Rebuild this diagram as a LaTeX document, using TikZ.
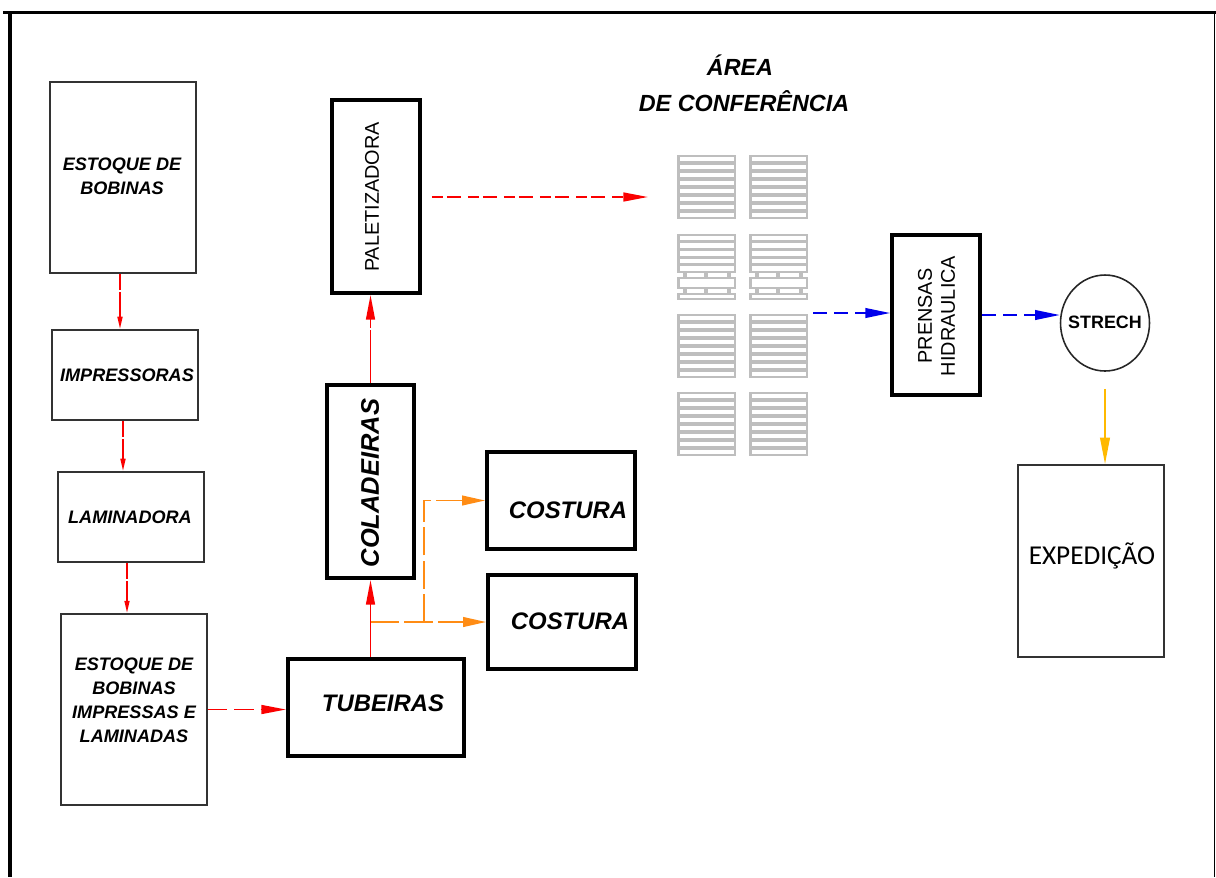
\documentclass[tikz,border=0pt]{standalone}
\usepackage{fontspec}
\setmainfont{Liberation Sans}
\newfontfamily\calib{Carlito}
\usetikzlibrary{arrows.meta,fit,shapes.geometric}
\definecolor{myorange}{RGB}{255,140,20}
\definecolor{myamber}{RGB}{255,185,0}
\definecolor{myblue}{RGB}{0,0,235}
\definecolor{myred}{RGB}{250,0,0}
\definecolor{palgray}{RGB}{190,190,190}
\newcommand{\palletTop}[2]{%
  \fill[palgray] (#1,#2) rectangle ++(59,64);
  \foreach \i in {0,...,7}{\fill[white] (#1+2.5,#2+\i*8+1.6) rectangle ++(54,4.8);}
}
\newcommand{\palletSide}[2]{%
  \fill[palgray] (#1,#2) rectangle ++(59,38.5);
  \foreach \i in {0,...,4}{\fill[white] (#1+2.5,#2+\i*7.7+1.5) rectangle ++(54,4.7);}
  \fill[palgray] (#1,#2+43) rectangle ++(59,12);
  \fill[white] (#1+2.5,#2+45) rectangle ++(54,8);
  \fill[palgray] (#1,#2+59) rectangle ++(59,7);
  \fill[white] (#1+2.5,#2+61) rectangle ++(54,3);
  \foreach \bx in {6,27,50}{
    \fill[palgray] (#1+\bx,#2+38.5) rectangle ++(4,4.5);
    \fill[palgray] (#1+\bx,#2+55) rectangle ++(4,4);
  }
}
\begin{document}
\begin{tikzpicture}[x=0.02cm,y=-0.02cm,
  thinbox/.style={draw=black!80, line width=1.1pt, inner sep=0pt},
  thickbox/.style={draw=black, line width=2.2pt, inner sep=0pt},
  lbl/.style={font=\fontsize{10.3}{13.6}\selectfont\bfseries\itshape, align=center, inner sep=0pt},
  biglbl/.style={font=\fontsize{13.6}{16}\selectfont\bfseries\itshape, inner sep=0pt},
  vlbl/.style={font=\fontsize{11.3}{13}\selectfont, rotate=90, align=center, inner sep=0pt},
  redsmall/.style={draw=myred, line width=1pt, dash pattern=on 9pt off 1.3pt on 60pt off 0.1pt, -{Triangle[length=7pt,width=2.8pt]}},
  redbig/.style={draw=myred, line width=1.1pt, -{Triangle[length=14pt,width=5pt]}},
  orangearr/.style={draw=myorange, line width=1pt, dash pattern=on 16pt off 3pt, -{Triangle[length=13pt,width=5.5pt]}},
  bluearr/.style={draw=myblue, line width=1pt, dash pattern=on 8pt off 4pt, -{Triangle[length=14pt,width=5.5pt]}},
  amberarr/.style={draw=myamber, line width=1pt, -{Triangle[length=15pt,width=5.5pt]}}
]
\useasboundingbox (0,0) rectangle (1216,877);
% frame
\draw[line width=2.2pt] (3,12.5) -- (1216,12.5);
\draw[line width=2.4pt] (10,12.5) -- (10,877);
\draw[line width=0.9pt] (1214.5,12.5) -- (1214.5,877);

% left column
\node[thinbox, fit={(50,82) (196,273)}] (e1) {};
\node[lbl] (e1t) at (122,176) {ESTOQUE DE\\BOBINAS};
\node[thinbox, fit={(52,330) (198,420)}] (imp) {};
\node[lbl] (impt) at (127,375) {IMPRESSORAS};
\node[thinbox, fit={(58,472) (204,562)}] (lam) {};
\node[lbl] (lamt) at (130,517) {LAMINADORA};
\node[thinbox, fit={(61,614) (207,805)}] (e2) {};
\node[lbl] (e2t) at (134,700) {ESTOQUE DE\\BOBINAS\\IMPRESSAS E\\LAMINADAS};

% middle
\node[thickbox, fit={(288,659) (464,756)}] (tub) {};
\node[biglbl] (tubt) at (383,703) {TUBEIRAS};
\node[thickbox, fit={(327,385) (414,578)}] (col) {};
\node[font=\fontsize{14.5}{16}\selectfont\bfseries\itshape, rotate=90, inner sep=0pt] (colt) at (370,483) {COLADEIRAS};
\node[thickbox, fit={(332,100) (420,293)}] (pal) {};
\node[vlbl] (palt) at (372,197) {PALETIZADORA};
\node[thickbox, fit={(487,452) (635,549)}] (cos1) {};
\node[biglbl] (cos1t) at (568,510) {COSTURA};
\node[thickbox, fit={(488,575) (636,669)}] (cos2) {};
\node[biglbl] (cos2t) at (570,621) {COSTURA};

% area de conferencia
\node[font=\fontsize{13.3}{16}\selectfont\bfseries\itshape, inner sep=0pt] (area1) at (740,65) {ÁREA};
\node[font=\fontsize{13.3}{16}\selectfont\bfseries\itshape, inner sep=0pt] (area2) at (744,101) {DE CONFERÊNCIA};
\palletTop{677}{155}
\palletTop{749}{155}
\palletSide{677}{234}
\palletSide{749}{234}
\palletTop{677}{314}
\palletTop{749}{314}
\palletTop{677}{392}
\palletTop{749}{392}

% right side
\node[thickbox, fit={(892,235) (980,395)}] (pr) {};
\node[vlbl] (prt) at (936.5,316) {PRENSAS\\HIDRAULICA};
\node[draw=black!85, line width=0.9pt, ellipse, minimum width=1.78cm, minimum height=1.92cm, inner sep=0pt] (st) at (1105,323) {};
\node[font=\fontsize{10.2}{12}\selectfont\bfseries, inner sep=0pt] (stt) at (1105,322) {STRECH};
\node[thinbox, fit={(1018,465) (1164,657)}] (exp) {};
\node[font=\fontsize{15.5}{18}\selectfont\calib, inner sep=0pt] (expt) at (1092,556) {EXPEDIÇÃO};

% connectors
\draw[redsmall] ([xshift=-0.06cm]e1.south) -- ([xshift=-0.06cm]e1.south |- imp.north);
\draw[redsmall] ([xshift=-0.04cm]imp.south) -- ([xshift=-0.04cm]imp.south |- lam.north);
\draw[redsmall] ([xshift=-0.08cm]lam.south) -- ([xshift=-0.08cm]lam.south |- e2.north);
\draw[redbig, dash pattern=on 11pt off 4pt] (e2.east) -- (e2.east -| tub.west);
\draw[redbig] (col.south |- tub.north) -- (col.south);
\draw[redbig, dash pattern=on 30pt off 1.5pt] (col.north) -- (col.north |- pal.south);
\coordinate (areaIn) at (648,197);
\draw[redbig, dash pattern=on 6.5pt off 2pt on 8pt off 4pt] ([xshift=0.2cm]pal.east |- areaIn) -- (areaIn);
\coordinate (j) at (371,622);
\coordinate (k) at (424,622);
\draw[orangearr] (j) -- (j -| cos2.west);
\draw[orangearr] (k) |- (cos1.west);
\coordinate (areaOut) at (813,313);
\draw[bluearr] (areaOut) -- (areaOut -| pr.west);
\draw[bluearr] (pr.east) -- (pr.east -| st.west);
\draw[amberarr] ([yshift=-0.34cm]st.south) -- (st.south |- exp.north);
\end{tikzpicture}
\end{document}
